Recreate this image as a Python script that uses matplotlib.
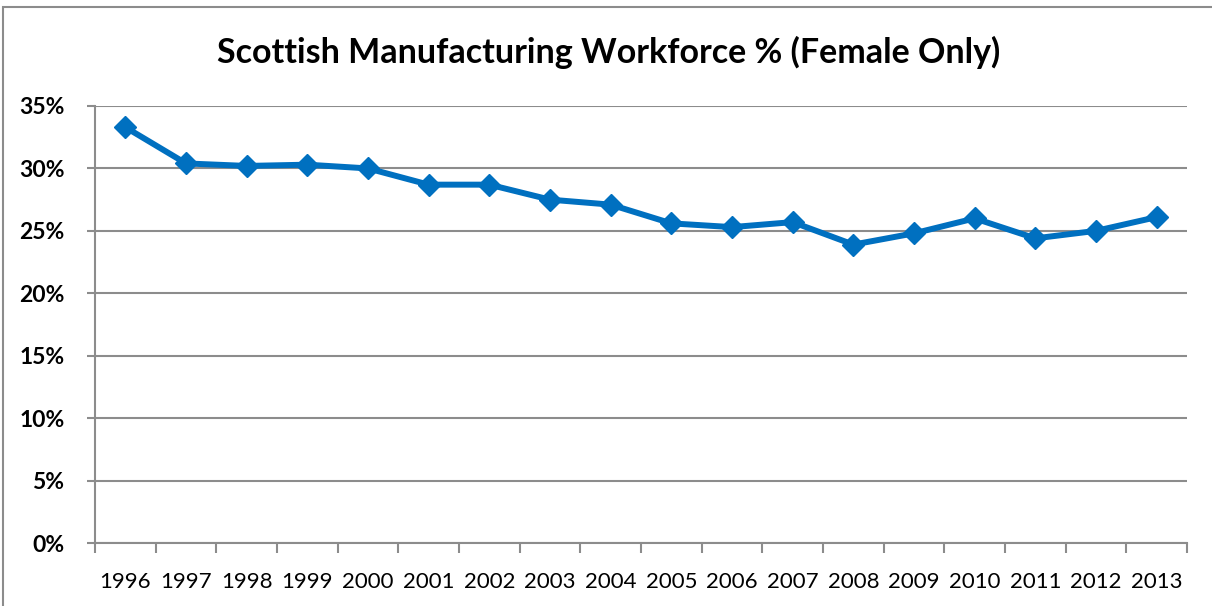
import matplotlib
matplotlib.use("Agg")
import matplotlib.pyplot as plt
from matplotlib.patches import Rectangle
from matplotlib.ticker import FixedLocator, NullFormatter

years = ["1996", "1997", "1998", "1999", "2000", "2001", "2002", "2003", "2004",
         "2005", "2006", "2007", "2008", "2009", "2010", "2011", "2012", "2013"]
female_pct = [33.3, 30.4, 30.2, 30.3, 30.0, 28.7, 28.7, 27.5, 27.1,
              25.6, 25.3, 25.7, 23.9, 24.8, 26.0, 24.4, 25.0, 26.1]
y_ticks = [0, 5, 10, 15, 20, 25, 30, 35]
title = "Scottish Manufacturing Workforce % (Female Only)"

plt.rcParams['font.family'] = ['Lato', 'DejaVu Sans']

fig = plt.figure(figsize=(12.12, 6.06), dpi=100)
W, H = 1212, 606
ax = fig.add_axes([95 / W, 1 - 543 / H, (1187 - 95) / W, (543 - 106) / H])

# outer chart border
fig.patches.append(Rectangle((3 / W, -0.1), 1.2, 1.1 - 7 / H, transform=fig.transFigure,
                             fill=False, edgecolor='#8c8c8c', linewidth=1.5))

x = list(range(len(years)))
ax.plot(x, female_pct, color='#0070C0', linewidth=4.3, marker='D', markersize=11,
        markerfacecolor='#0070C0', markeredgecolor='#0070C0', zorder=3, clip_on=False)

ax.set_xlim(-0.5, len(years) - 0.5)
ax.set_ylim(0, 35)
ax.set_yticks(y_ticks)
ax.set_yticklabels([f"{v}%" for v in y_ticks], fontsize=16.5, fontweight='bold')
ax.yaxis.grid(True, color='#8c8c8c', linewidth=1.5)
ax.set_axisbelow(True)

ax.set_xticks(x)
ax.set_xticklabels(years, fontsize=16)
ax.tick_params(axis='x', which='major', length=0, pad=21)
ax.xaxis.set_minor_locator(FixedLocator([i - 0.5 for i in range(len(years) + 1)]))
ax.xaxis.set_minor_formatter(NullFormatter())
ax.tick_params(axis='x', which='minor', length=7, width=1.5, color='#8c8c8c', direction='out')
ax.tick_params(axis='y', length=6, width=1.5, color='#8c8c8c', pad=16)

for s in ['top', 'right']:
    ax.spines[s].set_visible(False)
for s in ['left', 'bottom']:
    ax.spines[s].set_color('#8c8c8c')
    ax.spines[s].set_linewidth(1.5)

fig.text(609 / W, 1 - 52 / H, title, ha='center', va='center', fontsize=24.5, fontweight='bold')

fig.savefig("out.png", dpi=100)
